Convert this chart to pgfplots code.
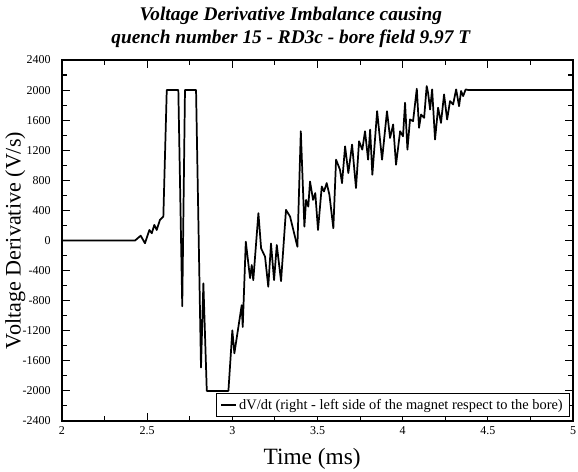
\documentclass[border=0pt]{standalone}
\usepackage{fontspec}
\setmainfont{Liberation Serif}
\usepackage{pgfplots}
\pgfplotsset{compat=1.18}
\usetikzlibrary{calc}

\begin{document}
\begin{tikzpicture}
\begin{axis}[
  scale only axis, width=383.25pt, height=270.75pt,
  xmin=2, xmax=5, ymin=-2400, ymax=2400,
  xtick={2,2.5,...,5}, minor xtick={2.25,2.75,...,4.75},
  ytick={-2400,-2000,...,2400}, minor ytick={-2200,-1800,...,2200},
  tick align=inside, major tick length=6pt, minor tick length=3.5pt,
  axis line style={line width=0.8pt}, every tick/.style={line width=0.8pt, black},
  /pgf/number format/assume math mode=true,
  /pgf/number format/1000 sep={},
  ticklabel style={font=\fontsize{9}{10}\selectfont},
  yticklabel style={xshift=-5pt},
  xticklabel style={yshift=-1pt},
  title={Voltage Derivative Imbalance causing\\quench number 15 - RD3c - bore field 9.97 T},
  title style={font=\bfseries\itshape\fontsize{14.5}{17}\selectfont, align=center, xshift=-20pt, yshift=0pt},
  xlabel={Time (ms)}, ylabel={Voltage Derivative (V/s)},
  xlabel style={font=\fontsize{17.5}{18}\selectfont, yshift=-3pt, xshift=-4pt},
  ylabel style={font=\fontsize{16.6}{17}\selectfont, at={(ticklabel* cs:0.5,24pt)}},
  legend style={at={(rel axis cs:0.994,0.011)}, anchor=south east, draw=black,
    line width=0.8pt, font=\fontsize{10.8}{11}\selectfont, inner ysep=2pt, inner xsep=3pt},
  legend cell align=left,
  legend image code/.code={\draw[#1] (0pt,0pt) -- (11pt,0pt);},
]
\addplot[black, line width=1.3pt, line join=round] coordinates {
(2,0)(2.429,0)(2.462,64)(2.487,-37)(2.513,140)(2.527,96)(2.542,207)(2.556,140)
(2.575,274)(2.595,318)(2.615,2000)(2.683,2000)(2.706,-875)(2.722,2000)(2.787,2000)
(2.816,-1690)(2.83,-570)(2.85,-2000)(2.977,-2000)
(3.000,-1195)(3.012,-1500)(3.055,-860)(3.061,-1150)(3.079,-15)(3.104,-500)(3.114,-327)
(3.123,-527)(3.153,363)(3.169,-105)(3.192,-215)(3.211,-615)(3.227,-40)(3.245,-527)
(3.261,-60)(3.286,-540)(3.315,407)(3.339,318)(3.382,-83)(3.402,1452)(3.423,184)
(3.433,540)(3.446,451)(3.456,785)(3.474,540)(3.487,630)(3.503,140)(3.525,718)
(3.538,652)(3.554,763)(3.570,607)(3.593,163)(3.609,1075)(3.632,941)(3.644,763)
(3.662,1252)(3.681,897)(3.703,1275)(3.726,697)(3.744,1319)(3.763,1208)(3.779,1452)
(3.797,1075)(3.809,1475)(3.822,874)(3.850,1719)(3.879,1075)(3.908,1719)(3.926,1364)
(3.944,1542)(3.961,1008)(3.985,1452)(4.002,1386)(4.014,1832)(4.028,1208)(4.043,1609)
(4.061,1586)(4.083,2018)(4.096,1498)(4.108,1675)(4.126,1631)(4.141,2053)(4.149,1965)
(4.161,1742)(4.173,2009)(4.190,1342)(4.208,1765)(4.225,1564)(4.243,1942)(4.261,1609)
(4.278,1853)(4.296,1809)(4.314,2009)(4.331,1786)(4.343,1987)(4.355,1920)(4.370,2009)
(4.386,2000)(5,2000)
};
\addlegendentry{dV/dt (right - left side of the magnet respect to the bore)}
\end{axis}
\pgfresetboundingbox
\path[use as bounding box] ($(current axis.south west)+(-46.5pt,-38.25pt)$) rectangle ($(current axis.north east)+(3.75pt,45pt)$);
\end{tikzpicture}
\end{document}
